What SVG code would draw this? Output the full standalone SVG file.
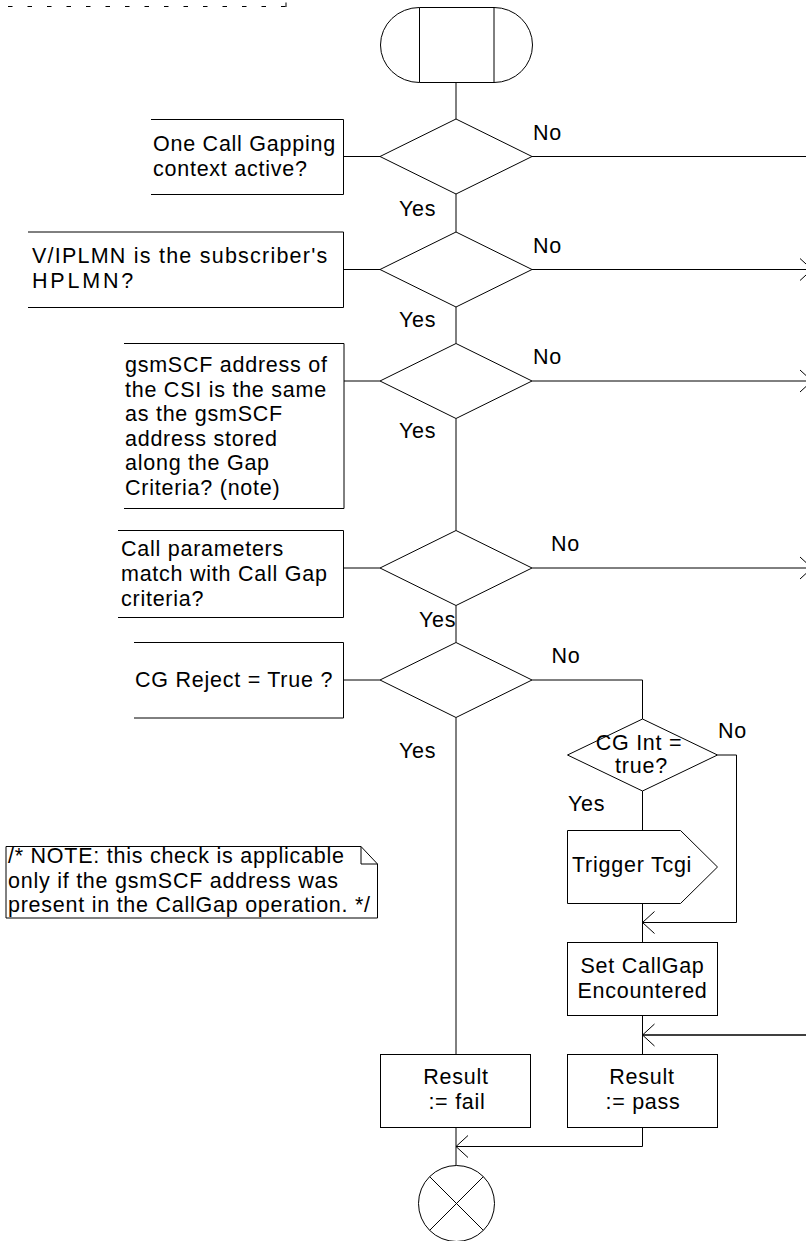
<svg xmlns="http://www.w3.org/2000/svg" width="806" height="1241" viewBox="0 0 806 1241">
<style>
.s{fill:none;stroke:#000;stroke-width:1}
.w{fill:#fff;stroke:#000;stroke-width:1}
.t{font-family:"Liberation Sans",Arial,sans-serif;font-size:21.5px;letter-spacing:0.75px;fill:#000}
.m{text-anchor:middle}
</style>
<defs>
<marker id="arr" viewBox="-13 -12 14 24" refX="0" refY="0" markerWidth="14" markerHeight="24" markerUnits="userSpaceOnUse" orient="auto" overflow="visible">
<path d="M-12,-11 L0,0 L-12,11" fill="none" stroke="#000" stroke-width="1"/>
</marker>
</defs>
<rect width="806" height="1241" fill="#fff"/>
<g id="frame">
<line x1="8" y1="6.5" x2="286" y2="6.5" stroke="#000" stroke-width="1" stroke-dasharray="4.5 15"/>
<line x1="286" y1="2.5" x2="286" y2="7" stroke="#000" stroke-width="1"/>
</g>
<g id="connectors">
<line class="s" x1="456" y1="82.5" x2="456" y2="119"/>
<line class="s" x1="456" y1="194" x2="456" y2="232"/>
<line class="s" x1="456" y1="307" x2="456" y2="343.5"/>
<line class="s" x1="456" y1="418.5" x2="456" y2="530.5"/>
<line class="s" x1="456" y1="605.5" x2="456" y2="642.5"/>
<line class="s" x1="456" y1="717.5" x2="456" y2="1054.5"/>
<line class="s" x1="343.5" y1="156.5" x2="380" y2="156.5"/>
<line class="s" x1="343.5" y1="269.5" x2="380" y2="269.5"/>
<line class="s" x1="344" y1="381" x2="380" y2="381"/>
<line class="s" x1="343.5" y1="568" x2="380" y2="568"/>
<line class="s" x1="343.5" y1="680" x2="380" y2="680"/>
<line class="s" x1="532" y1="156.5" x2="806" y2="156.5"/>
<line class="s" x1="532" y1="269.5" x2="812" y2="269.5" marker-end="url(#arr)"/>
<line class="s" x1="532" y1="381" x2="812" y2="381" marker-end="url(#arr)"/>
<line class="s" x1="532" y1="568" x2="812" y2="568" marker-end="url(#arr)"/>
<polyline class="s" points="532,680 642.5,680 642.5,719"/>
<polyline class="s" points="717.5,755 736.5,755 736.5,922.5 642.5,922.5" marker-end="url(#arr)"/>
<line class="s" x1="642.5" y1="791" x2="642.5" y2="830.5"/>
<line class="s" x1="642.5" y1="903.5" x2="642.5" y2="942.5"/>
<line class="s" x1="642.5" y1="1015.5" x2="642.5" y2="1054.5"/>
<line x1="806" y1="1035" x2="642.5" y2="1035" stroke="#000" stroke-width="1.6" marker-end="url(#arr)"/>
<polyline class="s" points="642.5,1127.5 642.5,1146.5 456,1146.5" marker-end="url(#arr)"/>
<line class="s" x1="456" y1="1127.5" x2="456" y2="1165.5"/>
</g>
<g id="start">
<path class="w" d="M419.5,7.5 A39,37.5 0 0 0 419.5,82.5 H494 A38.5,37.5 0 0 0 494,7.5 Z"/>
<line class="s" x1="419.5" y1="7.5" x2="419.5" y2="82.5"/>
<line class="s" x1="494" y1="7.5" x2="494" y2="82.5"/>
</g>
<g id="d1">
<polygon class="w" points="456,119 532,156.5 456,194 380,156.5"/>
<path class="s" d="M151,119.5 H343.5 V194.5 H151"/>
<text class="t" x="153" y="151">One Call Gapping</text>
<text class="t" x="153" y="176">context active?</text>
<text class="t" x="533" y="140">No</text>
<text class="t" x="399" y="216">Yes</text>
</g>
<g id="d2">
<polygon class="w" points="456,232 532,269.5 456,307 380,269.5"/>
<path class="s" d="M28,232 H343.5 V307.5 H28"/>
<text class="t" x="32" y="263" textLength="296" lengthAdjust="spacing">V/IPLMN is the subscriber's</text>
<text class="t" x="32" y="288" textLength="102" lengthAdjust="spacing">HPLMN?</text>
<text class="t" x="533" y="252.5">No</text>
<text class="t" x="399" y="327">Yes</text>
</g>
<g id="d3">
<polygon class="w" points="456,343.5 532,381 456,418.5 380,381"/>
<path class="s" d="M124,343.5 H344 V508.5 H124"/>
<text class="t" x="125" y="372">gsmSCF address of</text>
<text class="t" x="125" y="396.5">the CSI is the same</text>
<text class="t" x="125" y="421">as the gsmSCF</text>
<text class="t" x="125" y="445.5">address stored</text>
<text class="t" x="125" y="470">along the Gap</text>
<text class="t" x="125" y="494.5">Criteria? (note)</text>
<text class="t" x="533" y="364">No</text>
<text class="t" x="399" y="438">Yes</text>
</g>
<g id="d4">
<polygon class="w" points="456,530.5 532,568 456,605.5 380,568"/>
<path class="s" d="M118,530.5 H343.5 V617.5 H118"/>
<text class="t" x="121" y="556">Call parameters</text>
<text class="t" x="121" y="581">match with Call Gap</text>
<text class="t" x="121" y="606">criteria?</text>
<text class="t" x="551" y="551">No</text>
<text class="t" x="419" y="627">Yes</text>
</g>
<g id="d5">
<polygon class="w" points="456,642.5 532,680 456,717.5 380,680"/>
<path class="s" d="M134,642.5 H343.5 V718 H134"/>
<text class="t" x="135" y="687">CG Reject = True ?</text>
<text class="t" x="551.5" y="663">No</text>
<text class="t" x="399" y="758">Yes</text>
</g>
<g id="cgint">
<polygon class="w" points="642.5,719 717.5,755 642.5,791 567.5,755"/>
<text class="t m" x="639" y="750">CG Int =</text>
<text class="t m" x="641.5" y="773">true?</text>
<text class="t" x="718" y="738">No</text>
<text class="t" x="568" y="811">Yes</text>
</g>
<g id="trigger">
<path class="w" d="M567.5,830.5 H680.5 L717.5,867 L680.5,903.5 H567.5 Z"/>
<text class="t" x="572" y="872">Trigger Tcgi</text>
</g>
<g id="setcallgap">
<rect class="w" x="567.5" y="942.5" width="150" height="73"/>
<text class="t m" x="642.5" y="973">Set CallGap</text>
<text class="t m" x="642.5" y="998">Encountered</text>
</g>
<g id="resultpass">
<rect class="w" x="567.5" y="1054.5" width="150" height="73"/>
<text class="t m" x="642" y="1084">Result</text>
<text class="t m" x="643" y="1109">:= pass</text>
</g>
<g id="resultfail">
<rect class="w" x="380.5" y="1054.5" width="150" height="73"/>
<text class="t m" x="456" y="1084">Result</text>
<text class="t m" x="457" y="1109">:= fail</text>
</g>
<g id="stop">
<circle class="w" cx="456.5" cy="1203.5" r="38"/>
<path class="s" d="M429.6,1176.6 L483.4,1230.4 M483.4,1176.6 L429.6,1230.4"/>
</g>
<g id="note">
<path class="w" d="M6,846.5 H361 L377.5,864 V918 H6 Z"/>
<path class="s" d="M361,846.5 V864 H377.5"/>
<text class="t" x="8" y="863">/* NOTE: this check is applicable</text>
<text class="t" x="8" y="887.5">only if the gsmSCF address was</text>
<text class="t" x="8" y="912">present in the CallGap operation. */</text>
</g>
</svg>
